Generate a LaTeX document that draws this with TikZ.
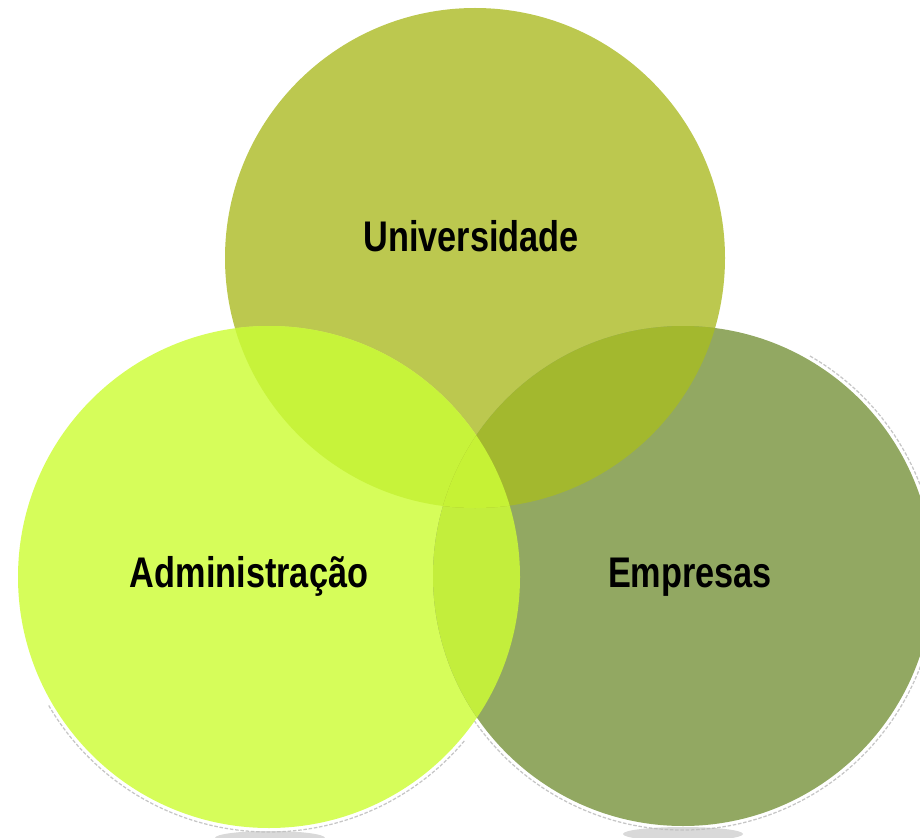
\documentclass[tikz,border=0pt]{standalone}
\usepackage{fontspec}
\newfontfamily\vennfont[FakeStretch=0.80]{Liberation Sans}
\usetikzlibrary{positioning}
\definecolor{univcolor}{RGB}{188,200,79}
\definecolor{admincolor}{RGB}{214,253,90}
\definecolor{emprcolor}{RGB}{146,168,98}
\definecolor{uacolor}{RGB}{199,243,58}
\definecolor{uecolor}{RGB}{163,184,46}
\definecolor{aecolor}{RGB}{195,238,60}
\definecolor{uaecolor}{RGB}{198,242,53}
\tikzset{
  venn label/.style={
    font=\vennfont\bfseries\fontsize{24.4}{28}\selectfont,
    text=black,
    inner sep=0pt,
    anchor=base
  },
  venn rim/.style={
    draw=gray!45,
    line width=0.025cm,
    dash pattern=on 2pt off 1pt
  },
  venn glow/.style={
    fill=gray!50,
    opacity=0.6
  }
}

\begin{document}
\begin{tikzpicture}[x=0.02cm,y=-0.02cm]
  \useasboundingbox (0,0) rectangle (920,838);
  \clip (0,0) rectangle (920,838);
  % three partners, pixel coordinates
  \coordinate (cu) at (475,258);
  \coordinate (ca) at (269,577);
  \coordinate (ce) at (683,576);

  \draw[venn rim] ([shift={(40:255)}]ca) arc[start angle=40,end angle=150,radius=255];
  \draw[venn rim] ([shift={(-60:254)}]ce) arc[start angle=-60,end angle=150,radius=254];
  \fill[venn glow] (270,838) ellipse[x radius=55,y radius=7];
  \fill[venn glow] (683,834) ellipse[x radius=60,y radius=7];

  \fill[univcolor] (cu) circle[radius=250];
  \fill[admincolor] (ca) circle[radius=251];
  \fill[emprcolor] (ce) circle[radius=250];
  \begin{scope}
    \clip (ca) circle[radius=251];
    \fill[aecolor] (ce) circle[radius=250];
  \end{scope}
  \begin{scope}
    \clip (cu) circle[radius=250];
    \fill[uacolor] (ca) circle[radius=251];
    \fill[uecolor] (ce) circle[radius=250];
    \clip (ca) circle[radius=251];
    \fill[uaecolor] (ce) circle[radius=250];
  \end{scope}

  \node[venn label] (univ) at (471,251) {Universidade};
  \node[venn label] (admin) at (249,587) {Administração};
  \node[venn label] (empr) at (690,587) {Empresas};
\end{tikzpicture}
\end{document}
